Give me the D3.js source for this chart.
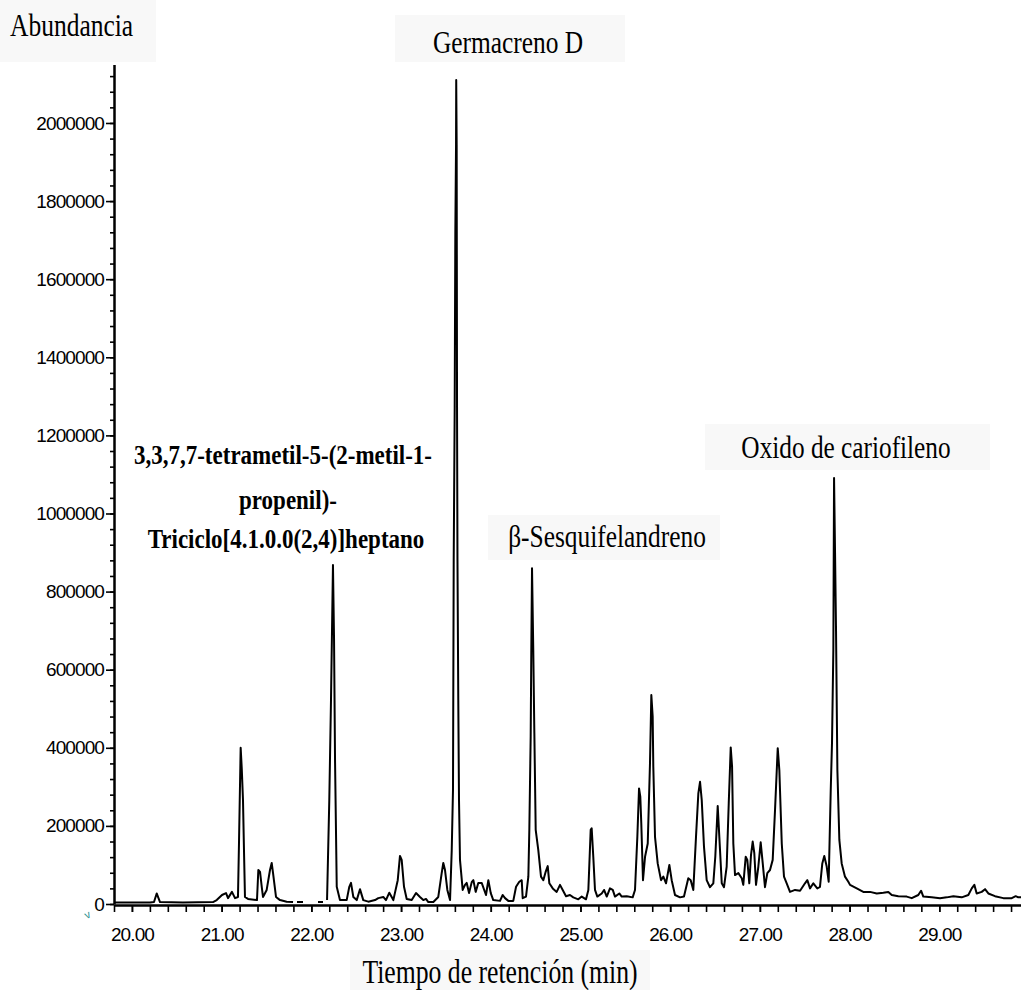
<!DOCTYPE html>
<html>
<head>
<meta charset="utf-8">
<script src="https://cdn.jsdelivr.net/npm/d3@7"></script>
<style>
  body { margin: 0; background: #fff; }
  svg { display: block; }
</style>
</head>
<body>
<svg id="chart" width="1021" height="990"></svg>
<script>
// Chromatogram trace: retention time (min) and detector abundance
const retentionTime = [
  19.800, 20.201, 20.246, 20.276, 20.296, 20.313, 20.569, 20.904, 20.945, 21.004,
  21.049, 21.071, 21.115, 21.149, 21.182, 21.194, 21.212, 21.224, 21.238, 21.249,
  21.260, 21.294, 21.394, 21.409, 21.428, 21.447, 21.461, 21.502, 21.539, 21.558,
  21.573, 21.606, 21.651, 21.725, 21.796, 21.840, 21.907, 22.074, 22.130, 22.175,
  22.200, 22.219, 22.241, 22.253, 22.264, 22.283, 22.319, 22.394, 22.423, 22.442,
  22.468, 22.506, 22.542, 22.579, 22.635, 22.710, 22.746, 22.802, 22.832, 22.869,
  22.914, 22.963, 22.988, 23.007, 23.033, 23.063, 23.119, 23.167, 23.211, 23.248,
  23.278, 23.304, 23.360, 23.415, 23.453, 23.471, 23.490, 23.516, 23.546, 23.565,
  23.579, 23.587, 23.598, 23.605, 23.613, 23.615, 23.620, 23.624, 23.629, 23.638,
  23.646, 23.657, 23.687, 23.713, 23.732, 23.758, 23.788, 23.806, 23.832, 23.861,
  23.899, 23.947, 23.973, 24.000, 24.028, 24.103, 24.133, 24.159, 24.196, 24.251,
  24.282, 24.318, 24.345, 24.356, 24.393, 24.419, 24.430, 24.445, 24.452, 24.460,
  24.474, 24.486, 24.501, 24.530, 24.560, 24.586, 24.613, 24.635, 24.653, 24.691,
  24.735, 24.772, 24.802, 24.839, 24.883, 24.920, 24.976, 25.014, 25.062, 25.088,
  25.114, 25.125, 25.143, 25.162, 25.188, 25.237, 25.263, 25.293, 25.329, 25.360,
  25.385, 25.433, 25.460, 25.516, 25.582, 25.608, 25.634, 25.653, 25.667, 25.678,
  25.697, 25.720, 25.750, 25.775, 25.790, 25.805, 25.812, 25.831, 25.861, 25.898,
  25.924, 25.954, 25.991, 26.017, 26.054, 26.110, 26.154, 26.202, 26.229, 26.258,
  26.288, 26.314, 26.333, 26.352, 26.377, 26.407, 26.444, 26.481, 26.503, 26.530,
  26.548, 26.575, 26.600, 26.630, 26.653, 26.675, 26.690, 26.704, 26.723, 26.760,
  26.798, 26.815, 26.842, 26.860, 26.882, 26.901, 26.920, 26.938, 26.957, 26.983,
  27.009, 27.032, 27.057, 27.083, 27.113, 27.143, 27.169, 27.199, 27.217, 27.244,
  27.269, 27.299, 27.336, 27.392, 27.448, 27.503, 27.529, 27.559, 27.596, 27.640,
  27.670, 27.696, 27.718, 27.745, 27.767, 27.790, 27.804, 27.819, 27.827, 27.838,
  27.849, 27.864, 27.886, 27.912, 27.949, 27.986, 28.005, 28.080, 28.153, 28.228,
  28.303, 28.376, 28.432, 28.470, 28.543, 28.637, 28.693, 28.766, 28.797, 28.822,
  28.916, 29.008, 29.083, 29.157, 29.250, 29.324, 29.362, 29.391, 29.417, 29.473,
  29.510, 29.547, 29.621, 29.714, 29.808, 29.852, 29.881, 29.911
];
const abundance = [
  4000, 4000, 5000, 27000, 15000, 5000, 4000, 5000, 10000, 23000,
  28000, 15000, 31000, 15000, 18000, 164000, 400000, 348000, 266000, 138000,
  18000, 13000, 10000, 87000, 82000, 44000, 18000, 36000, 87000, 105000,
  79000, 18000, 10000, 6000, 5000, 5000, 5000, 5000, 5000, 10000,
  266000, 522000, 868000, 676000, 369000, 44000, 10000, 10000, 44000, 54000,
  18000, 10000, 38000, 10000, 6000, 10000, 15000, 18000, 10000, 29000,
  10000, 61000, 123000, 113000, 44000, 13000, 10000, 28000, 18000, 10000,
  13000, 5000, 5000, 18000, 79000, 105000, 87000, 36000, 10000, 138000,
  292000, 881000, 1273000, 1718000, 1944000, 2110000, 1944000, 1273000, 881000, 522000,
  266000, 113000, 36000, 49000, 54000, 28000, 56000, 61000, 31000, 54000,
  54000, 23000, 61000, 28000, 10000, 8000, 23000, 15000, 8000, 8000,
  44000, 57000, 61000, 15000, 19000, 70000, 190000, 428000, 650000, 860000,
  650000, 438000, 190000, 138000, 70000, 61000, 83000, 97000, 53000, 40000,
  31000, 49000, 36000, 20000, 23000, 17000, 12000, 19000, 12000, 36000,
  190000, 194000, 121000, 36000, 19000, 27000, 36000, 19000, 40000, 36000,
  19000, 27000, 19000, 20000, 17000, 36000, 172000, 296000, 275000, 207000,
  61000, 121000, 155000, 360000, 535000, 480000, 352000, 172000, 104000, 61000,
  70000, 53000, 100000, 61000, 23000, 17000, 19000, 66000, 61000, 36000,
  172000, 283000, 313000, 266000, 147000, 61000, 43000, 53000, 121000, 251000,
  172000, 53000, 43000, 96000, 258000, 401000, 352000, 155000, 74000, 79000,
  66000, 49000, 121000, 113000, 53000, 125000, 160000, 130000, 49000, 96000,
  158000, 104000, 43000, 79000, 87000, 113000, 241000, 399000, 343000, 155000,
  70000, 53000, 31000, 36000, 34000, 53000, 61000, 40000, 53000, 40000,
  44000, 104000, 123000, 96000, 57000, 292000, 412000, 650000, 1091000, 900000,
  700000, 343000, 164000, 104000, 70000, 57000, 49000, 40000, 31000, 31000,
  27000, 29000, 31000, 23000, 20000, 19000, 15000, 23000, 34000, 19000,
  17000, 15000, 17000, 20000, 17000, 23000, 40000, 49000, 27000, 31000,
  38000, 27000, 20000, 15000, 15000, 20000, 17000, 17000
];
// the recorded trace has short dropouts after these times
const traceBreaksAfter = [21.796, 21.907, 22.130];

// axis ticks
const xLabelTicks = [20, 21, 22, 23, 24, 25, 26, 27, 28, 29];
const yLabelTicks = [0, 200000, 400000, 600000, 800000, 1000000, 1200000,
                     1400000, 1600000, 1800000, 2000000];

// annotations
const axisTitleY = "Abundancia";
const axisTitleX = "Tiempo de retención (min)";
const peakNames = ["Germacreno D", "β-Sesquifelandreno", "Oxido de cariofileno"];
const compoundLines = ["3,3,7,7-tetrametil-5-(2-metil-1-", "propenil)-",
                       "Triciclo[4.1.0.0(2,4)]heptano"];

const svg = d3.select("#chart");
const serif = "'Liberation Serif', 'Times New Roman', serif";
const sans = "'Liberation Sans', Arial, sans-serif";

const x = d3.scaleLinear().domain([19.8, 29.911]).range([114, 1021]);
const y = d3.scaleLinear().domain([0, 2150000]).range([904, 64.4]);

// faint panels behind the titles
const panels = [
  [0, 0, 156, 62], [395, 15, 230, 47], [488, 515, 232, 45],
  [705, 424, 285, 46], [350, 950, 300, 40]
];
svg.append("g").selectAll("rect").data(panels).join("rect")
  .attr("x", d => d[0]).attr("y", d => d[1])
  .attr("width", d => d[2]).attr("height", d => d[3])
  .attr("fill", "#f8f8f8");

// build the series, inserting gaps where the trace drops out
const series = [];
retentionTime.forEach((t, i) => {
  series.push({ t, a: abundance[i] });
  if (traceBreaksAfter.includes(t)) series.push({ t: NaN, a: NaN });
});

// axes
function styleAxis(g) {
  g.selectAll("path.domain").attr("stroke", "#000").attr("stroke-width", 2);
  g.selectAll(".tick line").attr("stroke", "#000").attr("stroke-width", 1.6);
  g.selectAll("text").attr("fill", "#000")
    .style("font-family", sans).style("font-size", "19px")
    .style("letter-spacing", "-0.9px");
}

const xMinor = d3.range(0, 51).map(i => 19.8 + i * 0.2);
svg.append("g").attr("transform", "translate(0,905)")
  .call(d3.axisBottom(x).tickValues(xMinor).tickSize(7).tickSizeOuter(0).tickFormat(""))
  .call(styleAxis);
svg.append("g").attr("transform", "translate(0,905)")
  .call(d3.axisBottom(x).tickValues(xLabelTicks).tickSize(7).tickSizeOuter(0)
        .tickPadding(16).tickFormat(d3.format(".2f")))
  .call(styleAxis);

const yMinor = d3.range(0, 54).map(i => i * 40000);
svg.append("g").attr("transform", "translate(114,0)")
  .call(d3.axisLeft(y).tickValues(yMinor).tickSize(4).tickSizeOuter(0).tickFormat(""))
  .call(styleAxis);
svg.append("g").attr("transform", "translate(114,0)")
  .call(d3.axisLeft(y).tickValues(yLabelTicks).tickSize(8).tickSizeOuter(0)
        .tickPadding(2).tickFormat(d => String(d)))
  .call(styleAxis);

// trace
const line = d3.line()
  .defined(d => !isNaN(d.a))
  .x(d => x(d.t))
  .y(d => y(d.a));
svg.append("path")
  .datum(series)
  .attr("d", line)
  .attr("fill", "none")
  .attr("stroke", "#000")
  .attr("stroke-width", 2)
  .attr("stroke-linejoin", "round");

// text labels (serif, drawn slightly tall)
function label(text, cx, baseline, size, weight, sy, anchor) {
  svg.append("text")
    .attr("transform", `translate(${cx},${baseline}) scale(1,${sy})`)
    .attr("text-anchor", anchor || "middle")
    .style("font-family", serif)
    .style("font-size", size + "px")
    .style("font-weight", weight)
    .attr("fill", "#000")
    .text(text);
}

label(axisTitleY, 10, 36, 25.5, "normal", 1.25, "start");
label(axisTitleX, 500, 983, 25.7, "normal", 1.3);
label(peakNames[0], 508, 53, 25.4, "normal", 1.25);
label(peakNames[1], 607, 547, 25.4, "normal", 1.25);
label(peakNames[2], 846, 458, 25.3, "normal", 1.25);
label(compoundLines[0], 283, 464, 23, "bold", 1.15);
label(compoundLines[1], 288, 509, 23, "bold", 1.15);
label(compoundLines[2], 286, 548, 23, "bold", 1.15);

// small cursor marker below the origin
svg.append("text")
  .attr("transform", "translate(89,918) rotate(-25)")
  .attr("text-anchor", "middle")
  .style("font-family", sans)
  .style("font-size", "11px")
  .attr("fill", "#2a9090")
  .text("v");
</script>
</body>
</html>
